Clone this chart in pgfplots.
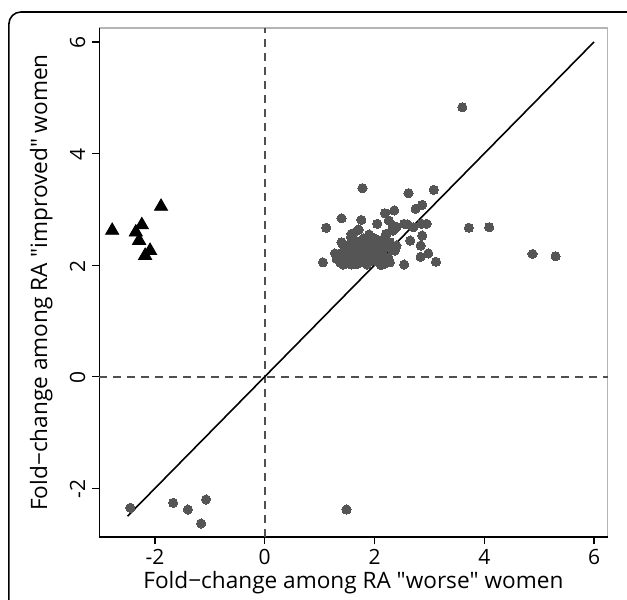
\documentclass[border=0pt]{standalone}
\usepackage{pgfplots}
\pgfplotsset{compat=1.18}
\usepackage{fontspec}
\setmainfont{Open Sans}
\definecolor{ptgray}{HTML}{555555}
\definecolor{boxgray}{HTML}{B4B4B4}
\definecolor{dashgray}{HTML}{505050}
\begin{document}
\begin{tikzpicture}
\useasboundingbox (-49.65pt,-31.5pt) rectangle (263.85pt,268.5pt);
\draw[line width=0.8pt, rounded corners=6pt] (-45.2pt,-80pt) rectangle (320pt,262.5pt);
\begin{axis}[
  at={(0,0)}, anchor=south west,
  scale only axis, width=254.1pt, height=254.5pt,
  xmin=-3.015, xmax=6.246, ymin=-2.873, ymax=6.25,
  xtick={-2,0,2,4,6}, ytick={-2,0,2,4,6},
  tick align=outside, tick pos=left,
  major tick length=3.5pt,
  every tick/.style={black, line width=0.6pt},
  axis line style={boxgray, line width=0.6pt},
  /pgf/number format/assume math mode=true,
  tick label style={font=\fontsize{10.5}{11}\selectfont},
  xticklabel style={yshift=0.8pt},
  yticklabel style={rotate=90, anchor=south, xshift=-0.5pt},
  label style={font=\fontsize{11.3}{13}\selectfont},
  xlabel={Fold\textminus change among RA \textquotedbl worse\textquotedbl{} women},
  ylabel={Fold\textminus change among RA \textquotedbl improved\textquotedbl{} women},
  xlabel style={at={(axis description cs:0.5,-0.09)}, anchor=center},
  ylabel style={at={(axis description cs:-0.114,0.5)}, anchor=center},
  clip=false,
]
\draw[black, line width=0.6pt] (rel axis cs:0,1) -- (rel axis cs:0,0) -- (rel axis cs:1,0);
\addplot[dashgray, line width=0.85pt, dash pattern=on 4pt off 3pt] coordinates {(0,-2.873) (0,6.25)};
\addplot[dashgray, line width=0.85pt, dash pattern=on 4pt off 3pt] coordinates {(-3.015,0) (6.246,0)};
\addplot[black, line width=0.8pt] coordinates {(-2.5,-2.5) (6,6)};
\addplot[only marks, mark=*, mark size=2.3pt, mark options={fill=ptgray, draw=ptgray, line width=0pt}] table {
x y
3.60 4.83
1.78 3.38
2.62 3.29
3.08 3.35
2.87 3.08
2.75 3.01
2.36 2.98
2.19 2.93
1.40 2.84
1.76 2.81
2.26 2.80
1.12 2.67
2.05 2.74
2.36 2.70
2.54 2.74
2.60 2.73
2.86 2.74
2.95 2.74
2.71 2.68
3.72 2.67
4.09 2.68
1.71 2.64
1.61 2.57
2.21 2.56
2.33 2.66
2.87 2.53
1.57 2.50
1.98 2.49
2.13 2.45
2.65 2.44
1.41 2.39
2.84 2.35
2.40 2.35
2.37 2.26
1.28 2.21
2.98 2.21
2.84 2.15
1.06 2.05
2.54 2.01
3.12 2.06
4.88 2.20
5.30 2.16
-2.45 -2.35
-1.67 -2.26
-1.40 -2.38
-1.07 -2.20
-1.16 -2.63
1.49 -2.38
1.31 2.11
1.37 2.05
1.43 2.01
1.49 2.17
1.55 2.08
1.58 2.01
1.61 2.26
1.64 2.14
1.71 2.38
1.73 2.23
1.76 2.05
1.79 2.32
1.83 2.14
1.86 2.01
1.89 2.41
1.92 2.23
1.95 2.08
1.98 2.32
2.01 2.47
2.04 2.17
2.07 2.05
2.10 2.38
2.13 2.23
2.16 2.11
2.19 2.32
1.40 2.41
1.58 2.56
1.71 2.63
2.22 2.56
2.34 2.62
2.40 2.68
2.28 2.41
2.25 2.14
1.35 2.20
1.45 2.28
1.52 2.35
1.65 2.44
1.80 2.48
1.90 2.55
2.00 2.20
2.08 2.30
2.18 2.02
1.68 2.02
1.50 2.10
1.95 2.37
2.28 2.05
2.32 2.30
1.85 2.28
1.60 2.33
2.12 2.00
1.75 2.10
2.05 2.10
};
\addplot[only marks, mark=triangle*, mark size=3.8pt, mark options={fill=black, draw=none}] table {
x y
-1.89 3.05
-2.78 2.62
-2.24 2.72
-2.35 2.59
-2.29 2.44
-2.09 2.26
-2.18 2.17
};
\end{axis}
\end{tikzpicture}
\end{document}
